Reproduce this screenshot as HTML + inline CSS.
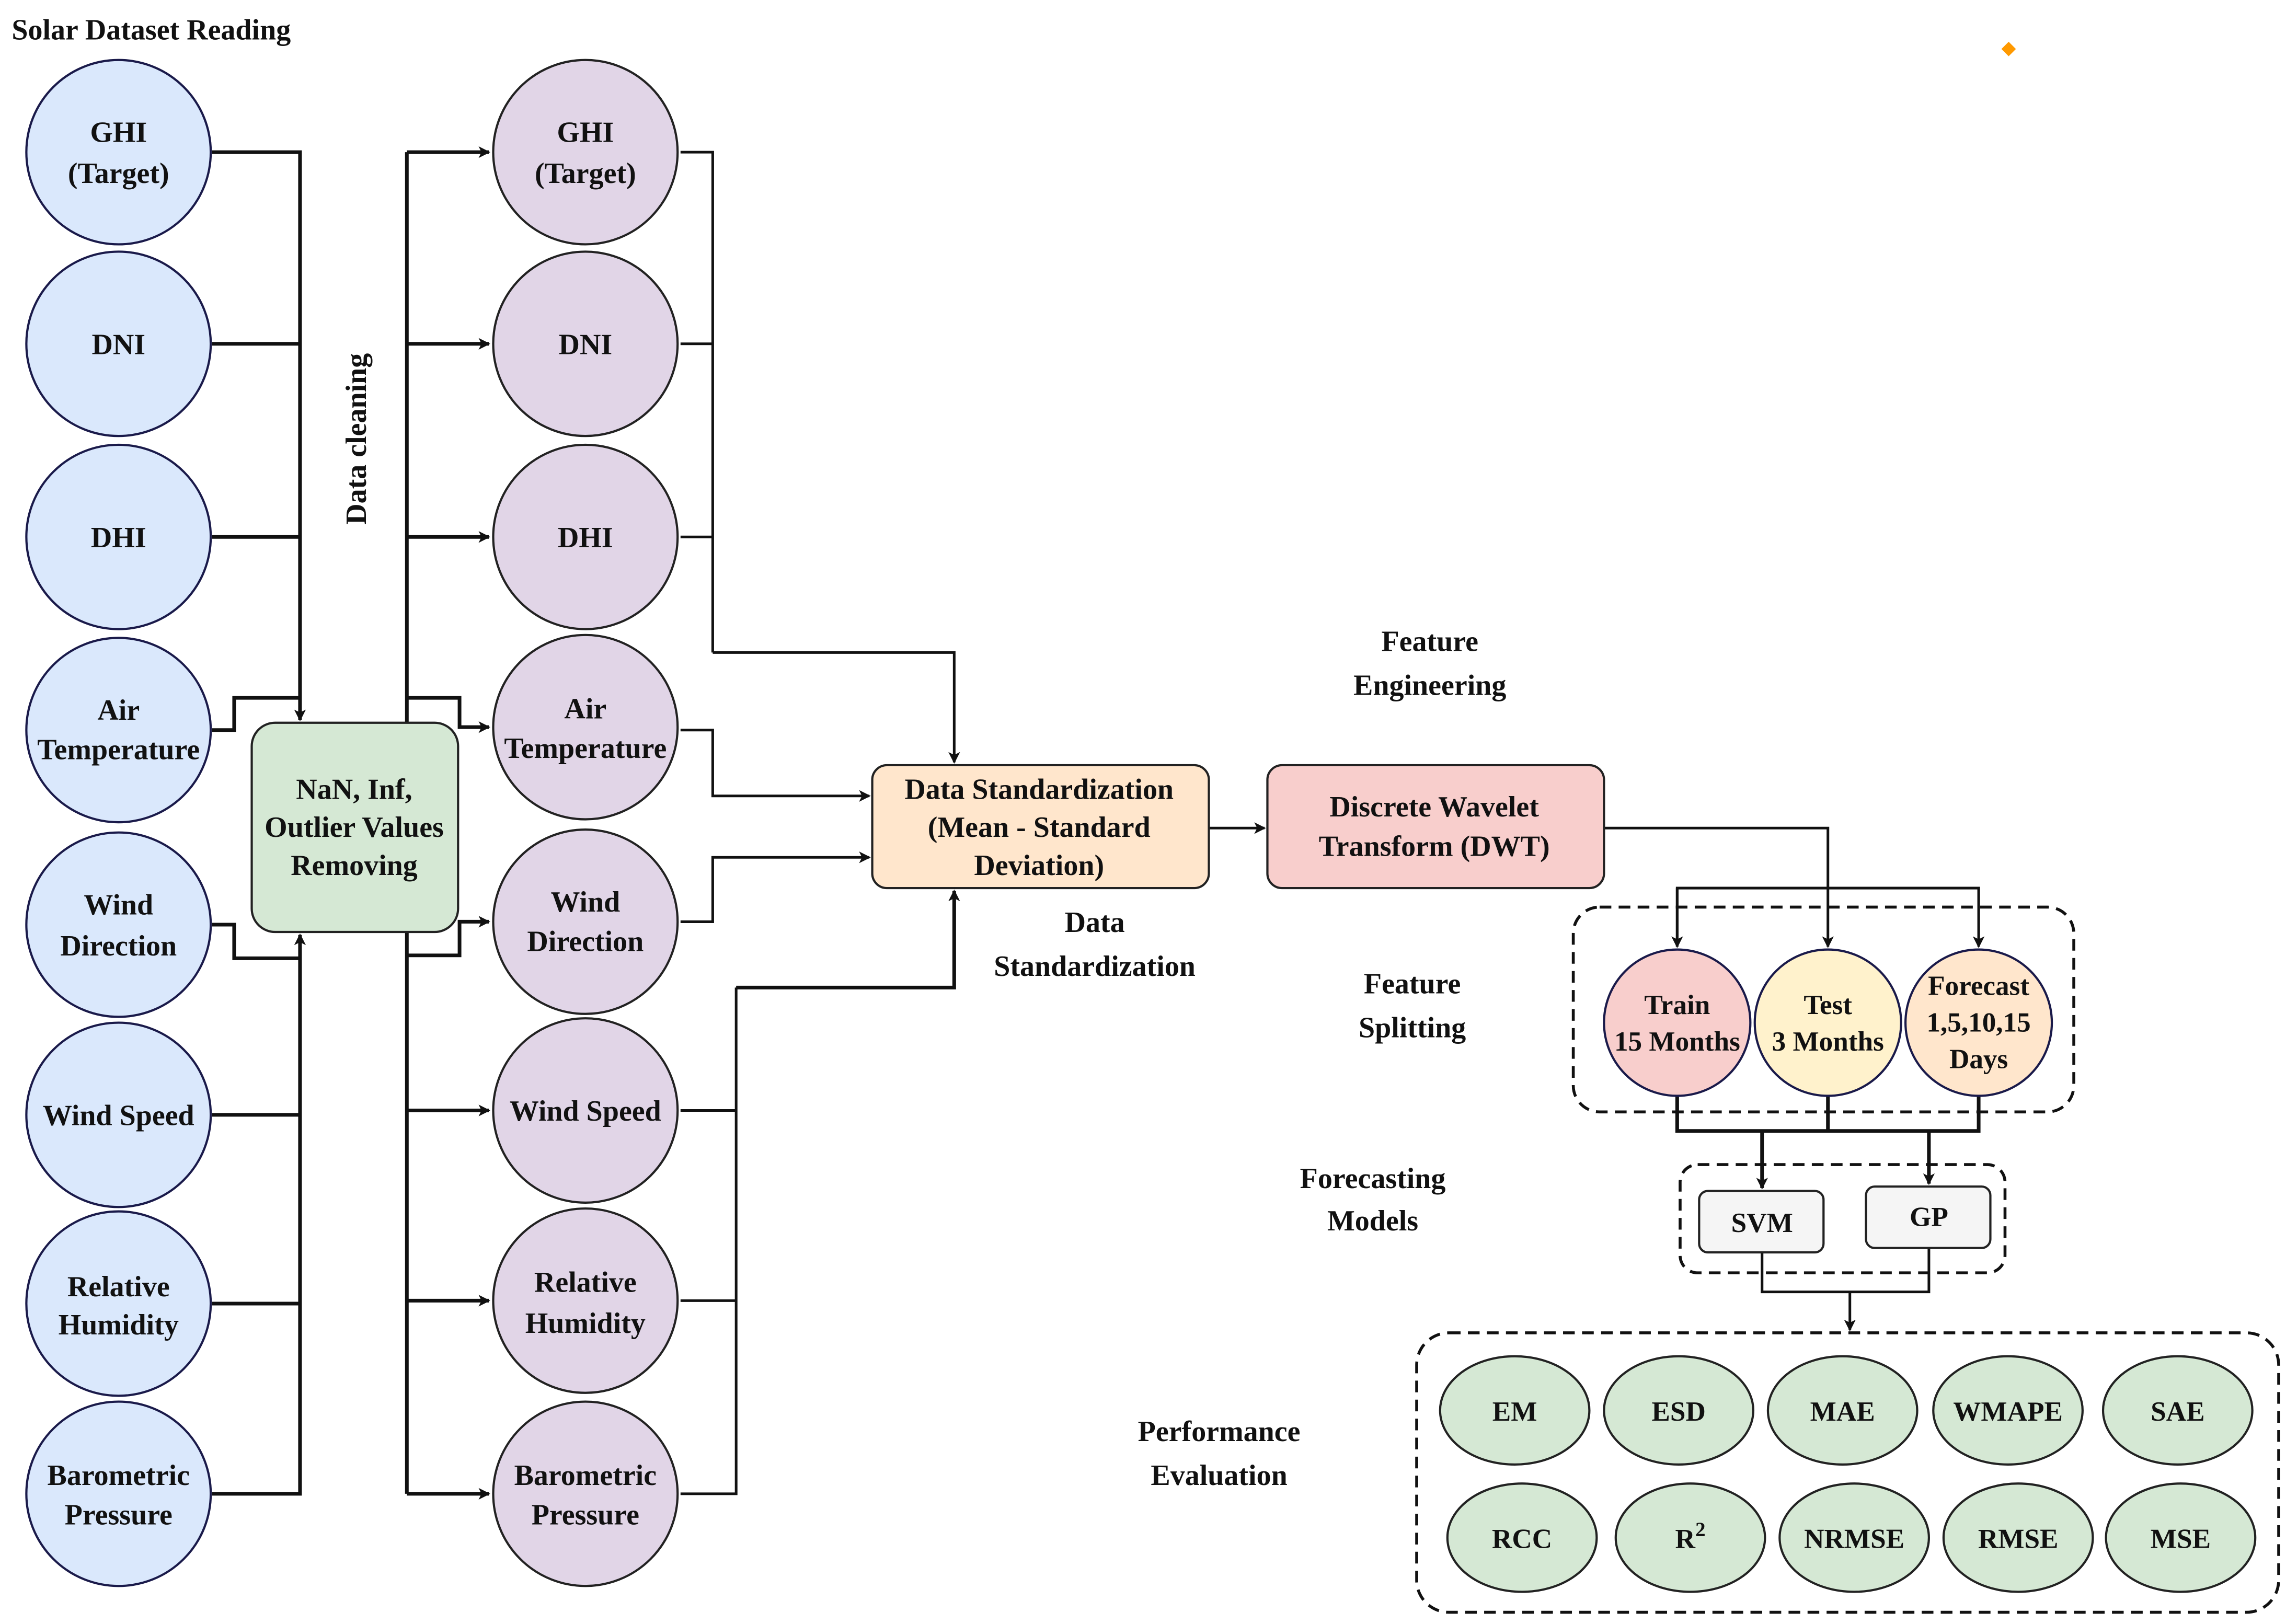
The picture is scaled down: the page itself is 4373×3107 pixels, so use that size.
<!DOCTYPE html>
<html><head><meta charset="utf-8"><style>
html,body{margin:0;padding:0;background:#fff;}
svg{display:block;}
text{font-family:"Liberation Serif",serif;font-weight:bold;fill:#111;text-anchor:middle;}
</style></head><body>
<svg width="4373" height="3107" viewBox="0 0 1562 1110" preserveAspectRatio="none" xmlns="http://www.w3.org/2000/svg">
<defs>
<marker id="a" markerWidth="8" markerHeight="8" refX="7" refY="4" orient="auto" markerUnits="userSpaceOnUse"><path d="M0,0 L8,4 L0,8 L2,4 Z" fill="#111"/></marker>
</defs>
<text x="8" y="27" font-size="20" style="text-anchor:start">Solar Dataset Reading</text>
<rect x="1369" y="30" width="7" height="7" fill="#f90" transform="rotate(45 1372.5 33.5)"/>
<g fill="none" stroke="#111" stroke-width="2.5">
<path d="M145,104 H205 V492" marker-end="url(#a)"/>
<path d="M145,235 H205"/><path d="M145,367 H205"/>
<path d="M145,499 H160 V477 H205"/>
<path d="M145,632 H160 V655 H205"/>
<path d="M145,762 H205"/><path d="M145,891 H205"/>
<path d="M145,1021 H205 V639" marker-end="url(#a)"/>
<path d="M278,104 V1021"/>
<path d="M278,104 H334" marker-end="url(#a)"/>
<path d="M278,235 H334" marker-end="url(#a)"/>
<path d="M278,367 H334" marker-end="url(#a)"/>
<path d="M278,477 H314 V497 H334" marker-end="url(#a)"/>
<path d="M278,653 H314 V630 H334" marker-end="url(#a)"/>
<path d="M278,759 H334" marker-end="url(#a)"/>
<path d="M278,889 H334" marker-end="url(#a)"/>
<path d="M278,1021 H334" marker-end="url(#a)"/>
</g>
<g fill="none" stroke="#111" stroke-width="1.8">
<path d="M465,104 H487 V446"/><path d="M465,235 H487"/><path d="M465,367 H487"/>
<path d="M487,446 H652 V521" marker-end="url(#a)"/>
<path d="M465,499 H487 V544 H594" marker-end="url(#a)"/>
<path d="M465,630 H487 V586 H594" marker-end="url(#a)"/>
<path d="M465,759 H503 M503,675 V1021 H465"/><path d="M465,889 H503"/>
<path d="M503,675 H652 V609" marker-end="url(#a)" stroke-width="2.5"/>
<path d="M826,566 H864" marker-end="url(#a)"/>
<path d="M1096,566 H1249 V647" marker-end="url(#a)"/>
<path d="M1146,647 V607 H1352 V647" marker-end="url(#a)"/>
<path d="M1146,607 V647" marker-end="url(#a)"/>
<path d="M1146,749 V773 H1352 V749 M1249,749 V773" stroke-width="2.5"/>
<path d="M1204,773 V812" marker-end="url(#a)" stroke-width="2.5"/>
<path d="M1318,773 V809" marker-end="url(#a)" stroke-width="2.5"/>
<path d="M1204,856 V883 H1318 V853 M1264,883 V909" marker-end="url(#a)"/>
</g>
<g fill="#dae8fc" stroke="#1a1a4a" stroke-width="1.5">
<circle cx="81" cy="104" r="63"/><circle cx="81" cy="235" r="63"/><circle cx="81" cy="367" r="63"/><circle cx="81" cy="499" r="63"/>
<circle cx="81" cy="632" r="63"/><circle cx="81" cy="762" r="63"/><circle cx="81" cy="891" r="63"/><circle cx="81" cy="1021" r="63"/>
</g>
<g fill="#e1d5e7" stroke="#222" stroke-width="1.5">
<circle cx="400" cy="104" r="63"/><circle cx="400" cy="235" r="63"/><circle cx="400" cy="367" r="63"/><circle cx="400" cy="497" r="63"/>
<circle cx="400" cy="630" r="63"/><circle cx="400" cy="759" r="63"/><circle cx="400" cy="889" r="63"/><circle cx="400" cy="1021" r="63"/>
</g>
<rect x="172" y="494" width="141" height="143" rx="16" fill="#d5e8d4" stroke="#222" stroke-width="1.5"/>
<rect x="596" y="523" width="230" height="84" rx="10" fill="#ffe6cc" stroke="#222" stroke-width="1.5"/>
<rect x="866" y="523" width="230" height="84" rx="10" fill="#f8cecc" stroke="#222" stroke-width="1.5"/>
<g fill="none" stroke="#111" stroke-width="2" stroke-dasharray="8,5">
<rect x="1075" y="620" width="342" height="140" rx="18"/>
<rect x="1148" y="796" width="222" height="74" rx="12"/>
<rect x="968" y="911" width="589" height="191" rx="22"/>
</g>
<circle cx="1146" cy="699" r="50" fill="#f8cecc" stroke="#1a1a4a" stroke-width="1.5"/>
<circle cx="1249" cy="699" r="50" fill="#fff2cc" stroke="#1a1a4a" stroke-width="1.5"/>
<circle cx="1352" cy="699" r="50" fill="#ffe6cc" stroke="#1a1a4a" stroke-width="1.5"/>
<rect x="1161" y="814" width="85" height="42" rx="6" fill="#f5f5f5" stroke="#222" stroke-width="1.5"/>
<rect x="1275" y="811" width="85" height="42" rx="6" fill="#f5f5f5" stroke="#222" stroke-width="1.5"/>
<g fill="#d5e8d4" stroke="#222" stroke-width="1.5">
<ellipse cx="1035" cy="964" rx="51" ry="37"/><ellipse cx="1147" cy="964" rx="51" ry="37"/><ellipse cx="1259" cy="964" rx="51" ry="37"/><ellipse cx="1372" cy="964" rx="51" ry="37"/><ellipse cx="1488" cy="964" rx="51" ry="37"/>
<ellipse cx="1040" cy="1051" rx="51" ry="37"/><ellipse cx="1155" cy="1051" rx="51" ry="37"/><ellipse cx="1267" cy="1051" rx="51" ry="37"/><ellipse cx="1379" cy="1051" rx="51" ry="37"/><ellipse cx="1490" cy="1051" rx="51" ry="37"/>
</g>
<g font-size="20">
<text x="81" y="97">GHI</text><text x="81" y="125">(Target)</text>
<text x="81" y="242">DNI</text><text x="81" y="374">DHI</text>
<text x="81" y="492">Air</text><text x="81" y="519">Temperature</text>
<text x="81" y="625">Wind</text><text x="81" y="653">Direction</text>
<text x="81" y="769">Wind Speed</text>
<text x="81" y="886">Relative</text><text x="81" y="912">Humidity</text>
<text x="81" y="1015">Barometric</text><text x="81" y="1042">Pressure</text>
<text x="400" y="97">GHI</text><text x="400" y="125">(Target)</text>
<text x="400" y="242">DNI</text><text x="400" y="374">DHI</text>
<text x="400" y="491">Air</text><text x="400" y="518">Temperature</text>
<text x="400" y="623">Wind</text><text x="400" y="650">Direction</text>
<text x="400" y="766">Wind Speed</text>
<text x="400" y="883">Relative</text><text x="400" y="911">Humidity</text>
<text x="400" y="1015">Barometric</text><text x="400" y="1042">Pressure</text>
<text x="242" y="546">NaN, Inf,</text><text x="242" y="572">Outlier Values</text><text x="242" y="598">Removing</text>
<text x="710" y="546">Data Standardization</text><text x="710" y="572">(Mean - Standard</text><text x="710" y="598">Deviation)</text>
<text x="980" y="558">Discrete Wavelet</text><text x="980" y="585">Transform (DWT)</text>
<text x="977" y="445">Feature</text><text x="977" y="475">Engineering</text>
<text x="748" y="637">Data</text><text x="748" y="667">Standardization</text>
<text x="965" y="679">Feature</text><text x="965" y="709">Splitting</text>
<text x="938" y="812">Forecasting</text><text x="938" y="841">Models</text>
<text x="833" y="985">Performance</text><text x="833" y="1015">Evaluation</text>
<text x="250" y="300" transform="rotate(-90 250 300)">Data cleaning</text>
</g>
<g font-size="19">
<text x="1146" y="693">Train</text><text x="1146" y="718">15 Months</text>
<text x="1249" y="693">Test</text><text x="1249" y="718">3 Months</text>
<text x="1352" y="680">Forecast</text><text x="1352" y="705">1,5,10,15</text><text x="1352" y="730">Days</text>
<text x="1204" y="842">SVM</text><text x="1318" y="838">GP</text>
<text x="1035" y="971">EM</text><text x="1147" y="971">ESD</text><text x="1259" y="971">MAE</text><text x="1372" y="971">WMAPE</text><text x="1488" y="971">SAE</text>
<text x="1040" y="1058">RCC</text><text x="1155" y="1058">R<tspan font-size="14" dy="-8">2</tspan></text><text x="1267" y="1058">NRMSE</text><text x="1379" y="1058">RMSE</text><text x="1490" y="1058">MSE</text>
</g>
</svg>
</body></html>
